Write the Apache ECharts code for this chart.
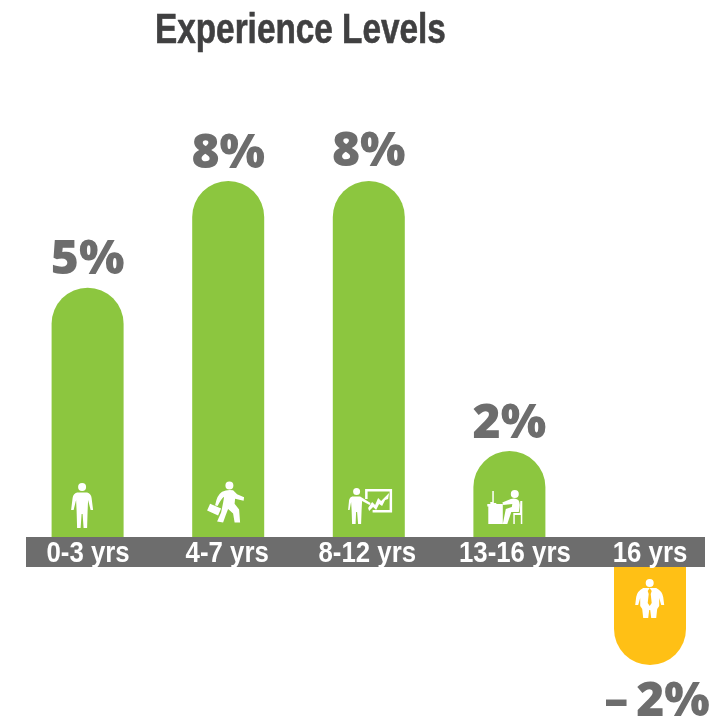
<!DOCTYPE html>
<html>
<head>
<meta charset="utf-8">
<style>html,body{margin:0;padding:0;background:#fff}#c{width:727px;height:717px}</style>
<script src="https://cdn.jsdelivr.net/npm/echarts@6/dist/echarts.min.js"></script>
</head>
<body>
<div id="c"></div>
<script>
const categories = ['0-3 yrs', '4-7 yrs', '8-12 yrs', '13-16 yrs', '16 yrs'];
const positiveValues = [5.6, 8, 8, 1.93, null];
const negativeValues = [null, null, null, null, -2.2];
const valueLabels = ['5%', '8%', '8%', '2%', '–\u20092%'];
const chartTitle = 'Experience Levels';

const NARROW = '"Liberation Sans",sans-serif';
const WIDE = '"Open Sans","Noto Sans",sans-serif';
const GREY = '#6d6d6d', GREEN = '#8cc63f', YELLOW = '#ffc015';

const iconPaths = [
  'path://M7,4a4,4 0 1,1 8,0a4,4 0 1,1 -8,0zM6,9.5L16,9.5Q20,10.5 20.5,15L22,27L19.5,27L17,17L16.5,28L16,45L12.5,45L11.5,31L10.5,31L9.5,45L6,45L5.5,28L5,17L2.5,27L0,27L1.5,15Q2,10.5 6,9.5z',
  'path://M18.3,3.7a4,4 0 1,1 8,0a4,4 0 1,1 -8,0zM15,10Q20,7.5 26,8.5L30,12.5L37,15.5L36.5,19L28,17L27.5,22L32,28L33,41L27.5,41L26,32L21,27.5L18.5,34L16,41L10,40L14,31L16,21L17,15Q14,17 10.5,24.5L8,23.5Q10,13 15,10zM0,29L3,22L14,27L11,34z',
  'path://M5,3.5a3.5,3.5 0 1,1 7,0a3.5,3.5 0 1,1 -7,0zM4,8.5H12L22.5,15L21.5,17L14,13L13.5,22L13,36L10,36L9,24L8,24L7.5,36L4,36L3.5,22L3,14L1.5,22L0,22L1,12Q1.5,9 4,8.5zM17,1H44V24.5H24.5V22H41.5V3.5H19.5V11H17zM20,20L24,14L27,17L30,10L33,13L37,9L41,5L40,11L37,12L34,18L31,16L28,22L25,19L21,23z',
  'path://M23.5,4a4,4 0 1,1 8,0a4,4 0 1,1 -8,0zM0,14H15.5V34H1V16.5H0zM5,1H6.5V13H9V14.5H3V12H5zM23.5,9Q28,7.5 31,10Q33.5,13 31.5,22L24,22L20,34L15.5,34L18.5,19L24.5,17L25,14L16,15L15,12.5zM33,11L35,11L35,34L33.5,34L33.5,25L27.5,25L27.5,34L26,34L26,23L32.5,23z',
  'path://M10.5,4a4,4 0 1,1 8,0a4,4 0 1,1 -8,0zM8,9H21Q27,12 28,18L29,26L26,26L24,19L24,27L22,30L21,39L16,39L15,31L14,31L13,39L8,39L7,30L5,27L5,19L3,26L0,26L1,18Q2,12 8,9zM14.5,9L12.5,12L13.5,15L12.5,24L14.5,27L16.5,24L15.5,15L16.5,12z'
];
const iconSizes = [[22, 45], [37, 41], [44, 36], [35, 34], [29, 39]];
const iconOffsets = [[-5.5, -31.5], [-2.6, -35], [1.3, -31], [-4.6, -30], [-0.3, 31.5]];
const labelNudge = [0.5, -1, -1.5, 5.5, 0];

function iconItem(i) {
  return {
    value: [categories[i], 0],
    symbol: iconPaths[i],
    symbolSize: iconSizes[i],
    symbolOffset: iconOffsets[i]
  };
}
function barLabel(i, position, extra) {
  return Object.assign({
    show: true, position: position, distance: 3,
    formatter: valueLabels[i], color: GREY,
    fontFamily: WIDE, fontWeight: 800, fontSize: 48
  }, extra || {});
}

const chart = echarts.init(document.getElementById('c'), null, { renderer: 'canvas' });
const gridLeft = 17.3, gridWidth = 703;
chart.setOption({
  animation: false,
  backgroundColor: '#fff',
  graphic: [
    {
      type: 'rect', z: -1, silent: true,
      shape: { x: 26, y: 537, width: 679, height: 30 },
      style: { fill: GREY }
    },
    {
      type: 'text', silent: true, x: 155, y: 53, scaleX: 0.775,
      style: {
        text: chartTitle, fill: '#404041', stroke: '#404041', lineWidth: 0.6,
        textAlign: 'left', textVerticalAlign: 'bottom',
        font: 'bold 43px ' + NARROW
      }
    }
  ],
  grid: [
    { left: gridLeft, width: gridWidth, top: 181, height: 356 },
    { left: gridLeft, width: gridWidth, top: 567, height: 150 }
  ],
  xAxis: [
    {
      gridIndex: 0, type: 'category', data: categories,
      axisLine: { show: false }, axisTick: { show: false }, axisLabel: { show: false }
    },
    { gridIndex: 1, type: 'category', data: categories, show: false }
  ],
  yAxis: [
    { gridIndex: 0, type: 'value', min: 0, max: 8, show: false },
    { gridIndex: 1, type: 'value', min: -3.37, max: 0, show: false }
  ],
  series: [
    {
      name: 'Positive', type: 'bar', xAxisIndex: 0, yAxisIndex: 0,
      barWidth: 72,
      itemStyle: { color: GREEN, borderRadius: [36, 36, 0, 0] },
      data: positiveValues.map((v, i) => ({
        value: v,
        label: barLabel(i, 'top', i === 2 ? { offset: [0, -2] } : {})
      }))
    },
    {
      name: 'Negative', type: 'bar', xAxisIndex: 1, yAxisIndex: 1,
      barWidth: 72,
      itemStyle: { color: YELLOW, borderRadius: [0, 0, 36, 36] },
      data: negativeValues.map((v, i) => ({
        value: v,
        label: barLabel(i, 'bottom', { distance: 13, offset: [7, 0] })
      }))
    },
    {
      name: 'Icons top', type: 'scatter', xAxisIndex: 0, yAxisIndex: 0, z: 4,
      silent: true, clip: false,
      itemStyle: { color: '#fff', opacity: 1 },
      data: [0, 1, 2, 3].map(iconItem)
    },
    {
      name: 'Icons bottom', type: 'scatter', xAxisIndex: 1, yAxisIndex: 1, z: 4,
      silent: true, clip: false,
      itemStyle: { color: '#fff', opacity: 1 },
      data: [iconItem(4)]
    },
    {
      name: 'Category labels', type: 'custom', xAxisIndex: 0, yAxisIndex: 0, z: 6,
      silent: true, clip: false,
      data: categories.map((c) => [c, 0]),
      renderItem: function (params, api) {
        const p = api.coord([api.value(0), 0]);
        return {
          type: 'text', x: p[0] + labelNudge[params.dataIndex], y: p[1] + 31, scaleX: 0.89,
          style: {
            text: categories[params.dataIndex], fill: '#fff', align: 'center', verticalAlign: 'bottom',
            textAlign: 'center', textVerticalAlign: 'bottom',
            font: 'bold 29px ' + NARROW
          }
        };
      }
    }
  ]
});
</script>
</body>
</html>
